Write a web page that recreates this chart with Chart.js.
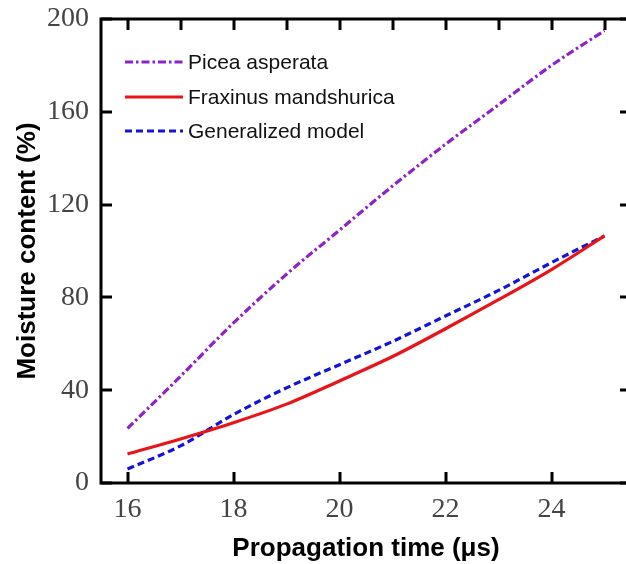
<!DOCTYPE html>
<html><head><meta charset="utf-8">
<script src="https://cdn.jsdelivr.net/npm/chart.js@4.4.0/dist/chart.umd.min.js"></script>
<style>html,body{margin:0;padding:0;background:#fff;overflow:hidden;} #wrap{width:640px;height:564px;}</style>
</head><body><div id="wrap"><canvas id="c" width="640" height="564"></canvas></div>
<script>
// ---- data ----
const times = [16, 17, 18, 19, 20, 21, 22, 23, 24, 25];
const piceaAsperata = [23.5, 46, 69, 90, 109, 128, 146, 163, 180, 195];
const fraxinusMandshurica = [12.5, 19, 26, 34, 44, 54.5, 66.5, 79, 92, 106.5];
const generalizedModel = [6, 16, 29.5, 41, 51, 61, 72, 83, 95, 106.5];
const seriesNames = ['Picea asperata', 'Fraxinus mandshurica', 'Generalized model'];
const xTickLabels = [16, 18, 20, 22, 24];
const xTopTicks = [16, 17, 18, 19, 20, 21, 22, 23, 24, 25];
const yTickLabels = [0, 40, 80, 120, 160, 200];
const xTitle = 'Propagation time (\u03bcs)';
const yTitle = 'Moisture content (%)';

const toPts = arr => arr.map((v, i) => ({x: times[i], y: v}));

const framePlugin = {
  id: 'frame',
  afterDraw(chart) {
    const ctx = chart.ctx, a = chart.chartArea;
    const xs = chart.scales.x, ys = chart.scales.y;
    ctx.save();
    ctx.strokeStyle = '#000';
    ctx.lineWidth = 3;
    ctx.strokeRect(a.left, a.top, a.right - a.left, a.bottom - a.top);
    const tl = 11;
    ctx.beginPath();
    xTickLabels.forEach(v => { const px = Math.round(xs.getPixelForValue(v)); ctx.moveTo(px, a.bottom); ctx.lineTo(px, a.bottom - tl); });
    xTopTicks.forEach(v => { const px = Math.round(xs.getPixelForValue(v)); ctx.moveTo(px, a.top); ctx.lineTo(px, a.top + tl); });
    yTickLabels.forEach(v => { const py = Math.round(ys.getPixelForValue(v)); ctx.moveTo(a.left, py); ctx.lineTo(a.left + tl, py); ctx.moveTo(a.right, py); ctx.lineTo(a.right - tl, py); });
    ctx.stroke();
    // legend
    const rows = [62, 97, 131];
    ctx.font = '21px "Liberation Sans", Arial, sans-serif';
    ctx.textBaseline = 'middle';
    chart.data.datasets.forEach((ds, i) => {
      const y = rows[i];
      ctx.strokeStyle = ds.borderColor;
      ctx.lineWidth = ds.borderWidth;
      ctx.setLineDash(ds.borderDash || []);
      ctx.beginPath(); ctx.moveTo(125, y); ctx.lineTo(183, y); ctx.stroke();
      ctx.setLineDash([]);
      ctx.fillStyle = '#111';
      ctx.fillText(ds.label, 188, y + 1);
    });
    ctx.restore();
  }
};

new Chart(document.getElementById('c'), {
  type: 'line',
  data: {
    datasets: [
      { label: seriesNames[0], data: toPts(piceaAsperata), borderColor: '#8e22c8', borderWidth: 3.2, borderDash: [8, 3, 2.5, 3], pointRadius: 0, cubicInterpolationMode: 'monotone', fill: false },
      { label: seriesNames[1], data: toPts(fraxinusMandshurica), borderColor: '#e8141a', borderWidth: 3.2, pointRadius: 0, cubicInterpolationMode: 'monotone', fill: false },
      { label: seriesNames[2], data: toPts(generalizedModel), borderColor: '#1414d6', borderWidth: 3.2, borderDash: [7, 4], pointRadius: 0, cubicInterpolationMode: 'monotone', fill: false }
    ]
  },
  options: {
    responsive: false, animation: false, devicePixelRatio: 1,
    layout: { padding: { top: 19, right: 9, left: 0, bottom: 0 } },
    plugins: { legend: { display: false }, tooltip: { enabled: false } },
    scales: {
      x: {
        type: 'linear', min: 15.5, max: 25.5,
        grid: { display: false, drawTicks: false, tickLength: 0 }, border: { display: false },
        afterBuildTicks: s => { s.ticks = xTickLabels.map(v => ({ value: v })); },
        afterFit: s => { s.height = 81; s.paddingLeft = 0; s.paddingRight = 0; },
        ticks: { padding: 10, color: '#444', font: { family: '"Liberation Serif", "Times New Roman", serif', size: 28 }, maxRotation: 0, autoSkip: false },
        title: { display: true, text: xTitle, color: '#000', padding: { top: 0, bottom: 0 }, font: { family: '"Liberation Sans", Arial, sans-serif', size: 26, weight: 'bold' } }
      },
      y: {
        type: 'linear', min: 0, max: 200,
        grid: { display: false, drawTicks: false, tickLength: 0 }, border: { display: false },
        afterBuildTicks: s => { s.ticks = yTickLabels.map(v => ({ value: v })); },
        afterFit: s => { s.width = 101; s.paddingTop = 0; s.paddingBottom = 0; },
        ticks: { padding: 12, color: '#444', font: { family: '"Liberation Serif", "Times New Roman", serif', size: 28 }, autoSkip: false },
        title: { display: true, text: yTitle, color: '#000', padding: { top: 12, bottom: 0 }, font: { family: '"Liberation Sans", Arial, sans-serif', size: 26, weight: 'bold' } }
      }
    }
  },
  plugins: [framePlugin]
});
</script></body></html>
